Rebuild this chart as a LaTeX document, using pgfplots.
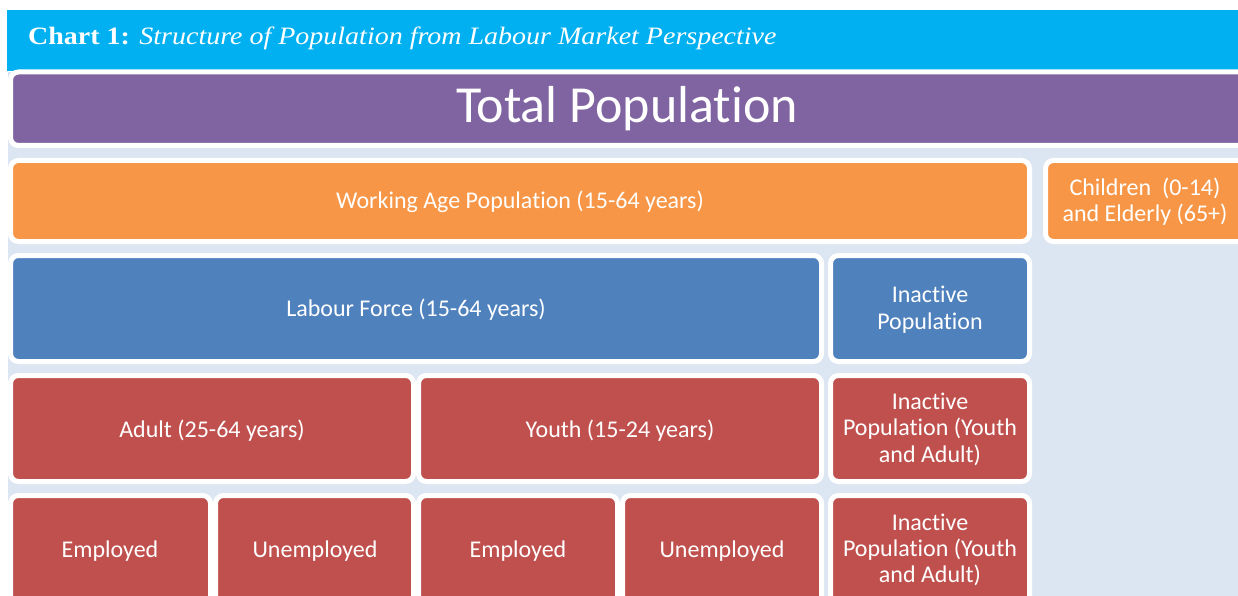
\documentclass[border=0pt]{standalone}
\usepackage{pgfplots}
\pgfplotsset{compat=1.18}
\usepackage{fontspec}
\setmainfont{Carlito}[RawFeature={-liga;-clig;-calt;-dlig}]
\newfontfamily\titlefont[FakeStretch=1.12]{Liberation Serif}
\definecolor{cyanbar}{HTML}{00B0F0}
\definecolor{bgblue}{HTML}{DCE6F2}
\definecolor{purp}{HTML}{8064A2}
\definecolor{oran}{HTML}{F79646}
\definecolor{blu}{HTML}{4F81BD}
\definecolor{redd}{HTML}{C0504D}
\newcommand\ti{t\kern0pt i}
% x1 y1 x2 y2 colour (path coordinates, colour edge inset 2.5)
\newcommand\blk[5]{\addplot[fill=#5,draw=white,line width=5pt,rounded corners=8pt] coordinates {(#1,#2) (#3,#2) (#3,#4) (#1,#4)} -- cycle;}
\newcommand\lab[3]{\node[anchor=base,text=white,font=\fontsize{24}{26.5}\selectfont,inner sep=0pt] at (axis cs:#1,#2) {#3};}
\begin{document}
\begin{tikzpicture}
\begin{axis}[name=ax,width=1238pt,height=596pt,scale only axis,
  xmin=0,xmax=1238,ymin=0,ymax=596,y dir=reverse,hide axis,clip=true]
\addplot[fill=white,draw=none] coordinates {(0,0) (1238,0) (1238,596) (0,596)} -- cycle;
\addplot[fill=bgblue,draw=none] coordinates {(8,72) (1250,72) (1250,620) (8,620)} -- cycle;
\addplot[fill=cyanbar,draw=none] coordinates {(7,10) (1250,10) (1250,71) (7,71)} -- cycle;
% Total population
\blk{10.5}{72}{1262}{145.5}{purp}
% row 1
\blk{10.5}{160.5}{1029.5}{241.5}{oran}
\blk{1045.5}{160.5}{1262}{241.5}{oran}
% row 2
\blk{10.5}{255.5}{821.5}{361.5}{blu}
\blk{830.5}{255.5}{1029.5}{361.5}{blu}
% row 3
\blk{10.5}{375.5}{413.5}{481.5}{redd}
\blk{418.5}{375.5}{821.5}{481.5}{redd}
\blk{830.5}{375.5}{1029.5}{481.5}{redd}
% row 4
\blk{10.5}{495.5}{210.5}{640}{redd}
\blk{215.5}{495.5}{413.5}{640}{redd}
\blk{418.5}{495.5}{617.5}{640}{redd}
\blk{622.5}{495.5}{821.5}{640}{redd}
\blk{830.5}{495.5}{1029.5}{640}{redd}
% texts
\node[anchor=base west,text=white,inner sep=0pt,font=\titlefont\fontsize{25}{28}\selectfont] at (axis cs:28,45) {\textbf{Chart 1:} \textit{Structure of Population from Labour Market Perspective}};
\node[anchor=base,text=white,inner sep=0pt,font=\fontsize{52}{60}\selectfont] at (axis cs:627,123) {Total Popula\ti on};
\lab{520}{208}{Working Age Popula\ti on (15-64 years)}
\lab{1145}{195}{Children\ \ (0-14)}
\lab{1145}{221}{and Elderly (65+)}
\lab{416}{316}{Labour Force (15-64 years)}
\lab{930}{302}{Inac\ti ve}
\lab{930}{329}{Popula\ti on}
\lab{212}{437}{Adult (25-64 years)}
\lab{620}{437}{Youth (15-24 years)}
\lab{930}{409}{Inac\ti ve}
\lab{930}{435.5}{Popula\ti on (Youth}
\lab{930}{462}{and Adult)}
\lab{110}{557}{Employed}
\lab{315}{557}{Unemployed}
\lab{518}{557}{Employed}
\lab{722}{557}{Unemployed}
\lab{930}{530}{Inac\ti ve}
\lab{930}{556.5}{Popula\ti on (Youth}
\lab{930}{582}{and Adult)}
\end{axis}
\pgfresetboundingbox
\path[use as bounding box] (ax.south west) rectangle (ax.north east);
\end{tikzpicture}
\end{document}
